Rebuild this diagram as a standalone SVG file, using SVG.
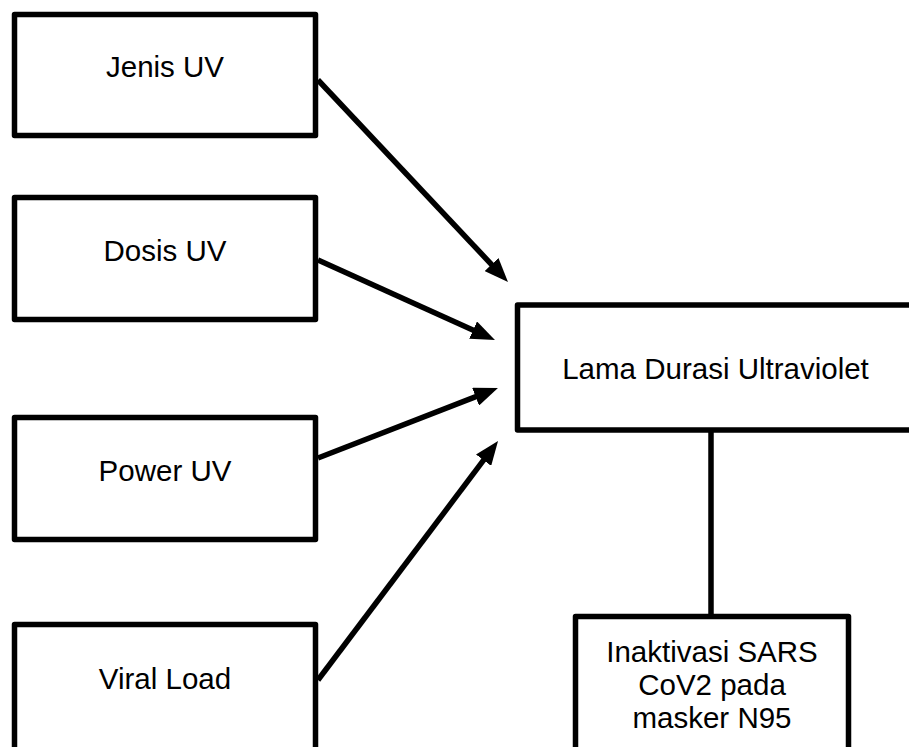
<svg xmlns="http://www.w3.org/2000/svg" width="909" height="747" viewBox="0 0 909 747">
<style>
.box{fill:#fff;stroke:#000;stroke-width:5.5;stroke-linejoin:round}
.lbl{font-family:"Liberation Sans",Arial,sans-serif;font-size:29.5px;fill:#000;text-anchor:middle}
.con{stroke:#000;stroke-width:5.5;fill:none}
</style>
<defs>
<marker id="ah" markerUnits="userSpaceOnUse" markerWidth="24" markerHeight="19" refX="10" refY="9.5" orient="auto" viewBox="0 0 24 19">
<path d="M0,0 L24,9.5 L0,19 z" fill="#000"/>
</marker>
</defs>
<rect x="0" y="0" width="909" height="747" fill="#fff"/>
<g id="jenis"><rect class="box" x="14.5" y="14.5" width="301" height="121"/><text class="lbl" x="165" y="77">Jenis UV</text></g>
<g id="dosis"><rect class="box" x="14.5" y="197.5" width="301" height="122"/><text class="lbl" x="165" y="261">Dosis UV</text></g>
<g id="power"><rect class="box" x="14.5" y="417.5" width="301" height="122"/><text class="lbl" x="165" y="481">Power UV</text></g>
<g id="viral"><rect class="box" x="14.5" y="624.5" width="301" height="140"/><text class="lbl" x="165" y="689">Viral Load</text></g>
<g id="lama"><rect class="box" x="517.5" y="305" width="420" height="125"/><text class="lbl" x="715.5" y="379">Lama Durasi Ultraviolet</text></g>
<g id="inaktivasi"><rect class="box" x="575.5" y="616.5" width="273" height="150"/>
<text class="lbl" x="712" y="662">Inaktivasi SARS</text>
<text class="lbl" x="712" y="695">CoV2 pada</text>
<text class="lbl" x="712" y="728">masker N95</text></g>
<g id="connectors">
<line class="con" x1="318" y1="80" x2="498.4" y2="271.8" marker-end="url(#ah)"/>
<line class="con" x1="318" y1="260" x2="482.2" y2="334.2" marker-end="url(#ah)"/>
<line class="con" x1="318" y1="458" x2="484.9" y2="393.1" marker-end="url(#ah)"/>
<line class="con" x1="318" y1="680" x2="489.6" y2="452.2" marker-end="url(#ah)"/>
<line class="con" x1="711" y1="432" x2="711" y2="614"/>
</g>
</svg>
